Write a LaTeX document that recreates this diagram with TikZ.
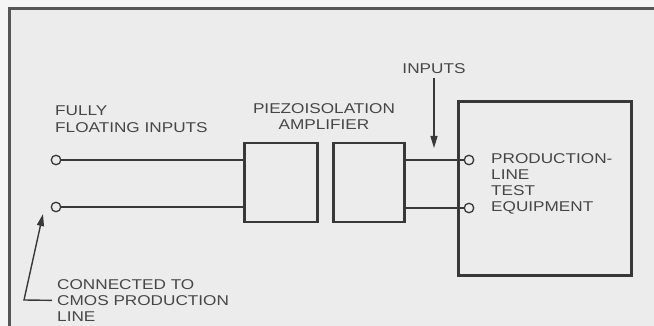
\documentclass[tikz,border=0pt]{standalone}
\usepackage{fontspec}
\setmainfont{Liberation Sans}[FakeStretch=1.21]
\usepackage{xcolor}
\usepackage{tikz}
\usetikzlibrary{arrows.meta,positioning}
\definecolor{inkgray}{HTML}{383838}
\definecolor{textgray}{HTML}{464646}
\definecolor{paper}{HTML}{ECECEC}
\newcommand{\capsfont}{\fontsize{14.2}{16.2}\selectfont}

\begin{document}
\begin{tikzpicture}[x=1pt,y=-1pt,
  boxline/.style={draw=inkgray,line width=2.8pt,fill=paper,inner sep=0pt},
  term/.style={circle,draw=inkgray,line width=1.3pt,fill=paper,minimum size=9.5pt,inner sep=0pt},
  wire/.style={draw=inkgray,line width=1.4pt},
  lbl/.style={text=textgray,font=\capsfont,align=left,inner sep=0pt,anchor=north west},
  pointer/.style={wire,-{Triangle[length=12pt,width=7pt]}}]
  \useasboundingbox (0,0) rectangle (654,326);
  \fill[white!96!black] (0,0) rectangle (654,326);
  % frame of the figure, cut off at the right and bottom
  \fill[paper] (9,9) rectangle (670,340);
  \draw[draw=inkgray!85,line width=3pt] (9,340) -- (9,9) -- (670,9);
  % the two halves of the amplifier and the tester
  \node[boxline,minimum width=73pt,minimum height=79pt] (piezoA) at (281,182.5) {};
  \node[boxline,minimum width=71pt,minimum height=79pt] (piezoB) at (369,182.5) {};
  \node[boxline,minimum width=173pt,minimum height=174pt] (tester) at (545,188.5) {};
  % input and output terminals
  \node[term] (inA) at (56,160) {};
  \node[term] (inB) at (56,207) {};
  \node[term] (outA) at (469,160) {};
  \node[term] (outB) at (469,208) {};
  \draw[wire] (inA) -- (inA -| piezoA.west);
  \draw[wire] (inB) -- (inB -| piezoA.west);
  \draw[wire] (outA -| piezoB.east) -- (outA);
  \draw[wire] (outB -| piezoB.east) -- (outB);
  % labels
  \node[lbl] (floating) at (55,106) {FULLY\\FLOATING INPUTS};
  \node[lbl,align=center,anchor=north] (piezolbl) at (324,103) {PIEZOISOLATION\\AMPLIFIER};
  \node[lbl,anchor=north] (inputs) at (434,63) {INPUTS};
  \node[lbl] (testlbl) at (491,153) {PRODUCTION-\\LINE\\TEST\\EQUIPMENT};
  \node[lbl] (cmos) at (57,279) {CONNECTED TO\\CMOS PRODUCTION\\LINE};
  % pointers
  \coordinate (inputsTip) at (434,148);
  \coordinate (cmosBend) at (24,300);
  \coordinate (cmosTip) at (43,214);
  \draw[pointer] ([yshift=-5pt]inputs.south) -- (inputsTip);
  \draw[pointer] ([xshift=-5pt]cmos.west) -- (cmosBend) -- (cmosTip);
\end{tikzpicture}
\end{document}
